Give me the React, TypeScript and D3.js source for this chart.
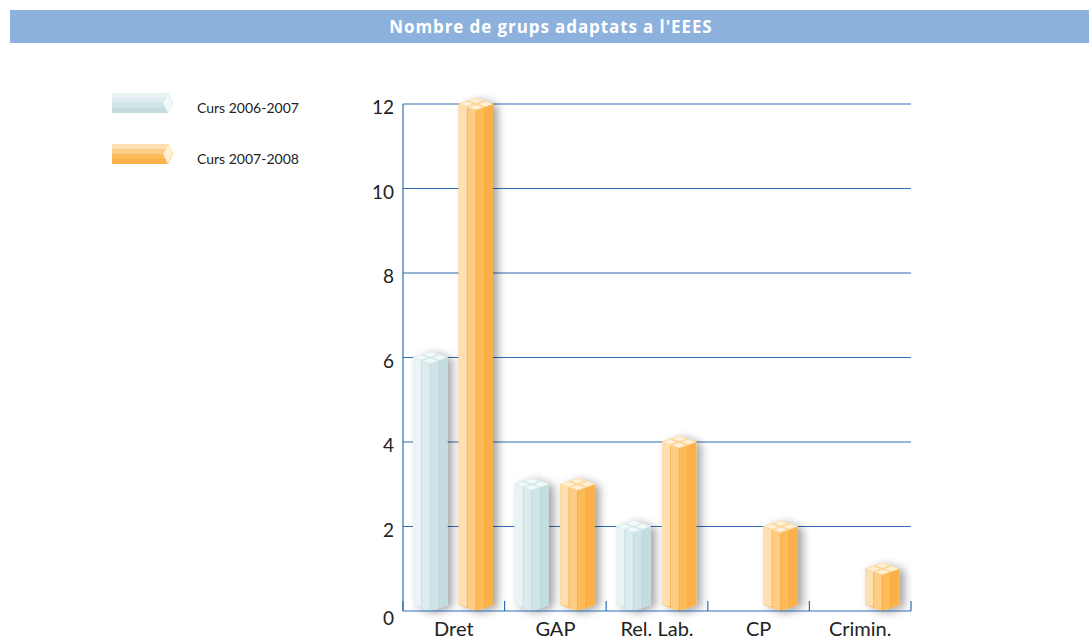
import React, { useEffect, useRef } from 'react';
import * as d3 from 'd3';

const categories = ['Dret', 'GAP', 'Rel. Lab.', 'CP', 'Crimin.'];
const curs0607 = [6, 3, 2, 0, 0];
const curs0708 = [12, 3, 4, 2, 1];
const yTicks = [0, 2, 4, 6, 8, 10, 12];
const seriesNames = ['Curs 2006-2007', 'Curs 2007-2008'];

const palettes = [
    { strips: ['#eaf4f5', '#dcecee', '#cfe4e6', '#c3dcdf'], cap: '#f2f9f9', capEdge: '#d6e9eb', line: '#b7d3d6' },
    { strips: ['#fedfb1', '#fdcd86', '#fdbb58', '#fcb04a'], cap: '#fff0d8', capEdge: '#fdd596', line: '#f5a53a' },
];

export default function App() {
    const ref = useRef<SVGSVGElement>(null);

    useEffect(() => {
        const svg = d3.select(ref.current);
        svg.selectAll('*').remove();

        const defs = svg.append('defs');
        const f = defs.append('filter').attr('id', 'shadow')
            .attr('x', '-30%').attr('y', '-10%').attr('width', '180%').attr('height', '130%');
        f.append('feDropShadow')
            .attr('dx', 5).attr('dy', 2).attr('stdDeviation', 4)
            .attr('flood-color', '#000').attr('flood-opacity', 0.35);

        // title band
        svg.append('rect').attr('x', 10).attr('y', 10).attr('width', 1079).attr('height', 33)
            .attr('fill', '#8cb1dc');
        svg.append('text').attr('x', 551).attr('y', 33)
            .attr('text-anchor', 'middle').attr('fill', '#fff')
            .style('font-family', '"Open Sans", sans-serif').style('font-weight', 'bold').style('font-size', '17px')
            .style('letter-spacing', '0.9px')
            .text("Nombre de grups adaptats a l'EEES");

        const x = d3.scaleBand().domain(categories).range([403, 911]);
        const xs = d3.scaleBand().domain(['0', '1']).range([10, 90]).paddingInner(0.25);
        const y = d3.scaleLinear().domain([0, 12]).range([611, 104]);
        const axisColor = '#2f6db3';

        // gridlines
        svg.append('g').selectAll('line').data(yTicks.filter(t => t > 0)).enter().append('line')
            .attr('x1', 403).attr('x2', 911)
            .attr('y1', d => y(d)).attr('y2', d => y(d))
            .attr('stroke', axisColor).attr('stroke-width', 1.2);

        // left axis line
        svg.append('line').attr('x1', 403).attr('x2', 403).attr('y1', y(12)).attr('y2', y(0))
            .attr('stroke', axisColor).attr('stroke-width', 1.2);

        // y labels
        svg.append('g').selectAll('text').data(yTicks).enter().append('text')
            .attr('x', 394).attr('y', d => y(d) + (d === 0 ? 14 : 10))
            .attr('text-anchor', 'end').attr('fill', '#222')
            .style('font-family', 'Lato, sans-serif').style('font-size', '19px')
            .text(d => d);

        // bars
        const bw = xs.bandwidth();
        const drawBar = (g: any, x0: number, val: number, pal: any) => {
            const top = y(val);
            const bottom = y(0);
            const cap = 6;
            const bar = g.append('g').attr('filter', 'url(#shadow)');
            const n = pal.strips.length;
            const sw = bw / n;
            const xc = x0 + bw / 2;
            bar.append('path')
                .attr('d', `M${x0},${top}L${x0 + bw},${top}L${x0 + bw},${bottom - cap}L${xc},${bottom}L${x0},${bottom - cap}Z`)
                .attr('fill', pal.strips[2]);
            pal.strips.forEach((c: string, i: number) => {
                const a = x0 + i * sw;
                const b = a + sw;
                const yb = (xx: number) => bottom - cap * Math.abs(xx - xc) / (bw / 2);
                bar.append('path')
                    .attr('d', `M${a},${top}L${b},${top}L${b},${yb(b)}L${i < 2 ? xc : a},${i < 2 ? yb(b) : yb(a)}L${a},${yb(a)}Z`)
                    .attr('fill', c);
            });
            [1, 2, 3].forEach(i => {
                const xx = x0 + i * sw;
                bar.append('line').attr('x1', xx).attr('x2', xx).attr('y1', top)
                    .attr('y2', bottom - cap * Math.abs(xx - xc) / (bw / 2))
                    .attr('stroke', pal.line).attr('stroke-width', 0.8).attr('opacity', 0.7);
            });
            bar.append('path')
                .attr('d', `M${x0},${top}L${xc},${top - cap}L${x0 + bw},${top}L${xc},${top + cap}Z`)
                .attr('fill', pal.cap).attr('stroke', pal.capEdge).attr('stroke-width', 0.8);
            bar.append('path')
                .attr('d', `M${x0 + bw / 4},${top - cap / 2}L${x0 + 3 * bw / 4},${top + cap / 2}M${x0 + 3 * bw / 4},${top - cap / 2}L${x0 + bw / 4},${top + cap / 2}`)
                .attr('stroke', pal.capEdge).attr('stroke-width', 1.6).attr('fill', 'none');
        };

        const barsG = svg.append('g');
        categories.forEach((c, i) => {
            [curs0607[i], curs0708[i]].forEach((v, s) => {
                if (v > 0) drawBar(barsG, (x(c) as number) + (xs(String(s)) as number), v, palettes[s]);
            });
        });

        // bottom axis
        svg.append('line').attr('x1', 403).attr('x2', 911).attr('y1', y(0)).attr('y2', y(0))
            .attr('stroke', axisColor).attr('stroke-width', 1.2);
        const bounds = categories.map(c => x(c) as number).concat([911]);
        svg.append('g').selectAll('line').data(bounds).enter().append('line')
            .attr('x1', d => d).attr('x2', d => d).attr('y1', y(0)).attr('y2', y(0) - 10)
            .attr('stroke', axisColor).attr('stroke-width', 1.2);
        svg.append('g').selectAll('text').data(categories).enter().append('text')
            .attr('x', d => (x(d) as number) + x.bandwidth() / 2).attr('y', 636)
            .attr('text-anchor', 'middle').attr('fill', '#222')
            .style('font-family', 'Lato, sans-serif').style('font-size', '20px')
            .text(d => d);

        // legend
        const legendY = [103, 154];
        seriesNames.forEach((name, s) => {
            const pal = palettes[s];
            const g = svg.append('g');
            const ly = legendY[s];
            const h = 20;
            const x0 = 112, x1 = 168;
            const sh = h / 4;
            pal.strips.forEach((c, i) => {
                g.append('rect').attr('x', x0).attr('y', ly - h / 2 + i * sh)
                    .attr('width', x1 - x0).attr('height', sh).attr('fill', c);
            });
            g.append('path')
                .attr('d', `M${x1},${ly - h / 2}L${x1 + 5},${ly}L${x1},${ly + h / 2}L${x1 - 5},${ly}Z`)
                .attr('fill', pal.cap).attr('stroke', pal.capEdge).attr('stroke-width', 0.8);
            g.append('text').attr('x', 197).attr('y', ly + 10)
                .attr('fill', '#222')
                .style('font-family', 'Lato, sans-serif').style('font-size', '14px')
                .text(name);
        });
    }, []);

    return (
        <div style={{ position: 'absolute', left: 0, top: 0 }}>
            <svg ref={ref} width={1089} height={639} style={{ display: 'block', background: '#fff' }} />
        </div>
    );
}
